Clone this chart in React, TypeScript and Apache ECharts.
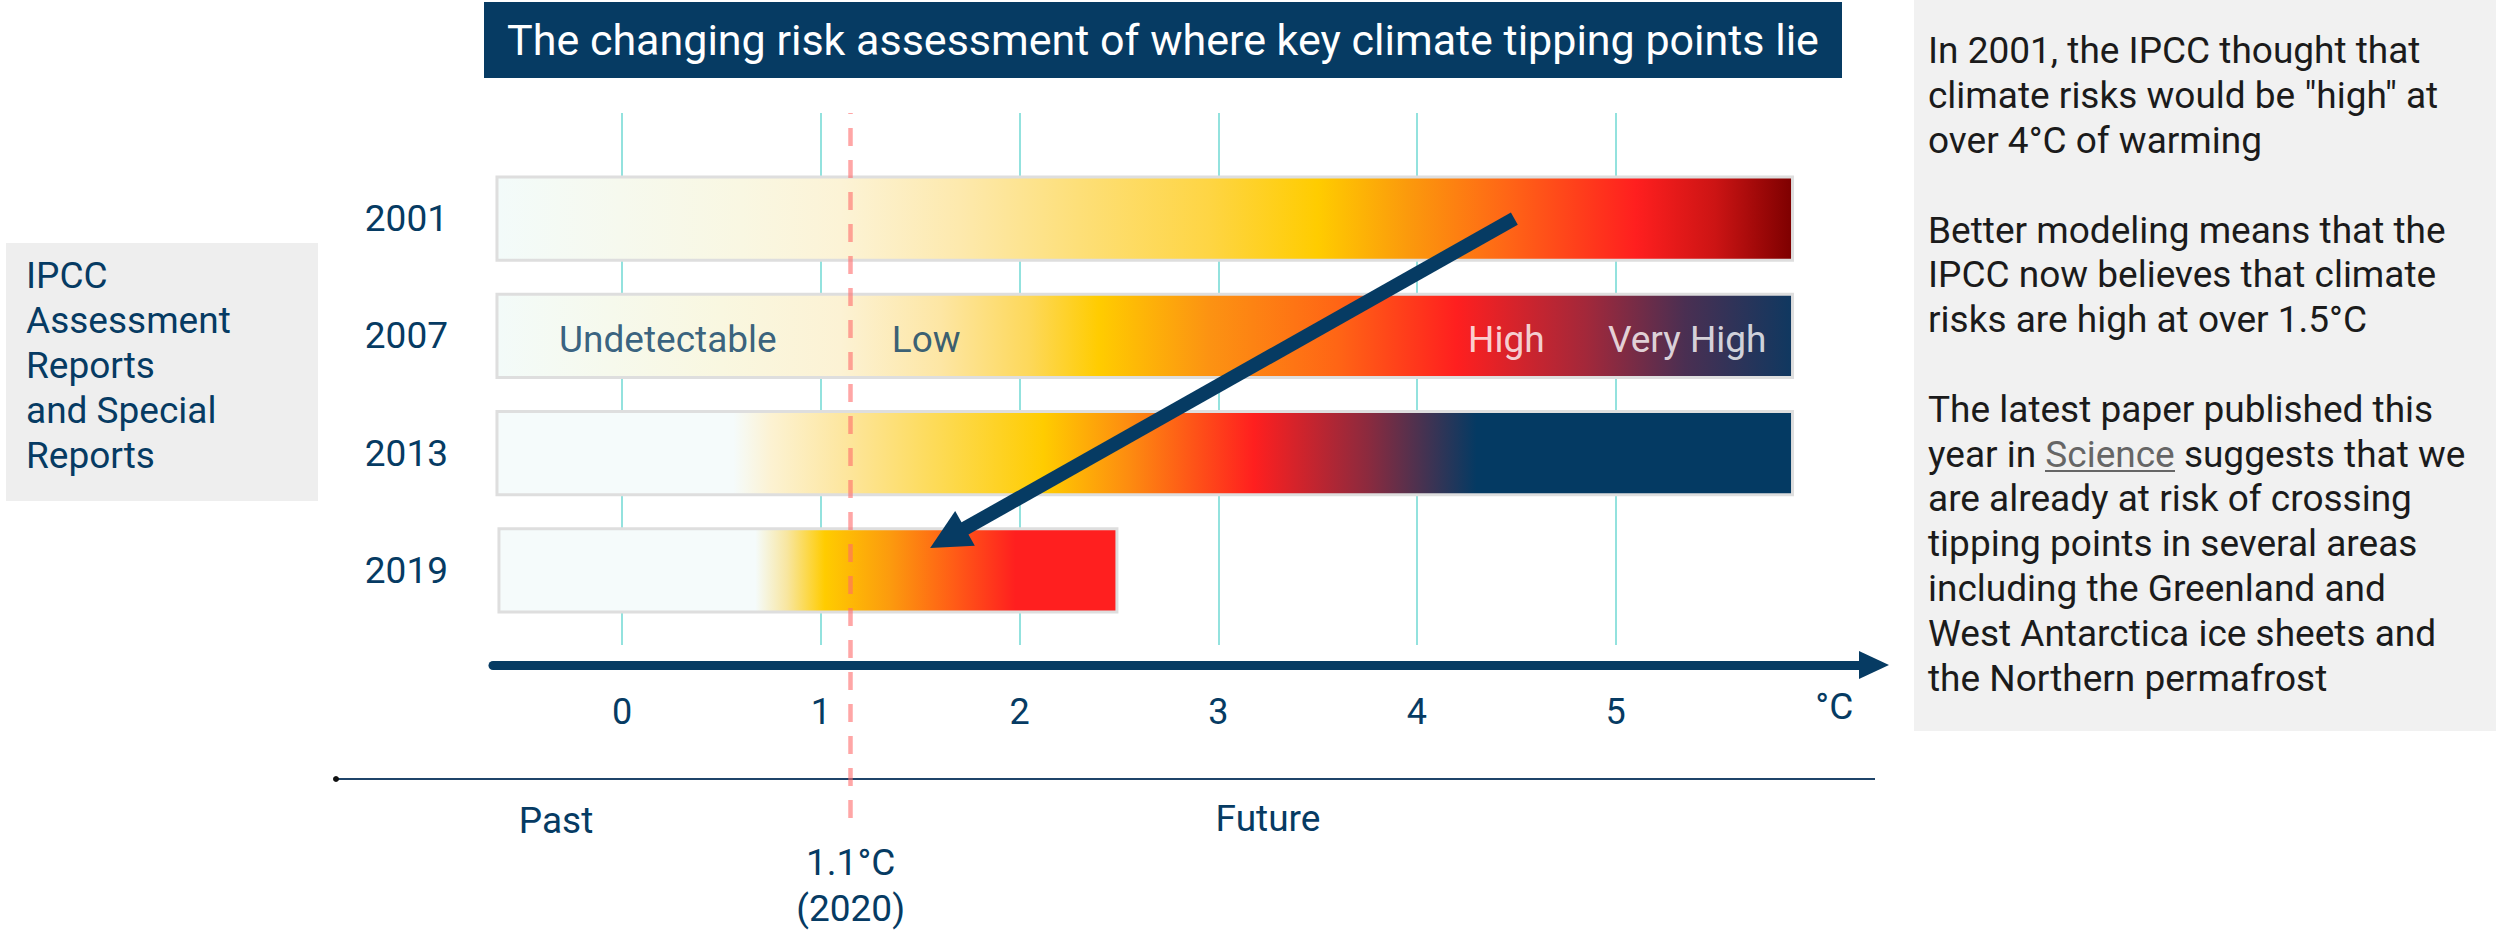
import React, { useEffect, useRef } from 'react';
import * as echarts from 'echarts';

// ---------- data ----------
const years = ['2001', '2007', '2013', '2019'];
const barStart = [-0.63, -0.63, -0.63, -0.62];
const barEnd = [5.89, 5.89, 5.89, 2.49];

// colour stops along each bar: [temperature °C, colour]
const stops2001: [number, string][] = [
  [-0.63, '#f3fbfa'], [0.6, '#f9f7e2'], [1.1, '#fcf3d6'], [1.7, '#fde9ad'], [2.3, '#fddf78'],
  [2.95, '#fed544'], [3.5, '#ffcc00'], [3.95, '#fb9a0c'], [4.45, '#ff6616'], [5.1, '#ff1f1f'],
  [5.5, '#cc1414'], [5.89, '#7d0000'],
];
const stops2007: [number, string][] = [
  [-0.63, '#f3fbf9'], [0.5, '#f9f7e0'], [1.1, '#fcf2d4'], [1.6, '#fde6a4'], [2.05, '#fdd85a'],
  [2.4, '#ffcc00'], [2.95, '#fc9312'], [3.6, '#ff6515'], [4.2, '#ff1f1f'], [4.85, '#a3283a'],
  [5.35, '#4a2f52'], [5.89, '#0f3860'],
];
const stops2013: [number, string][] = [
  [-0.63, '#f5fbfb'], [0.56, '#f5fbfb'], [0.75, '#fcf2d2'], [1.15, '#fde59a'], [1.65, '#fdd94c'],
  [2.12, '#ffcc00'], [2.55, '#fd8c10'], [3.18, '#ff1f1f'], [3.75, '#8c2a3e'], [4.3, '#043a63'],
  [5.89, '#043a63'],
];
const stops2019: [number, string][] = [
  [-0.62, '#f5fbfb'], [0.67, '#f5fbfb'], [0.83, '#f8e6a0'], [1.02, '#ffcc00'], [1.35, '#fc9a0e'],
  [1.66, '#ff5e16'], [1.98, '#ff1f1f'], [2.49, '#ff1f1f'],
];
const allStops = [stops2001, stops2007, stops2013, stops2019];

const tickValues = [0, 1, 2, 3, 4, 5];
const unitLabelAt = 6.1;
const unitLabel = '°C';
const xMin = -0.65;
const xMax = 6.3;

// the dashed "today" line sits at ~1.15 on the drawn scale, labelled 1.1°C (2020)
const currentWarmingPos = 1.15;
const currentLabel = ['1.1°C', '(2020)'];

const zoneNames = ['Undetectable', 'Low', 'High', 'Very High'];
const zoneTemps = [0.23, 1.53, 4.45, 5.36];
const zoneYear = '2007';
const zoneLight = [false, false, true, true];

const arrowFromTemp = 4.49;
const arrowFromYear = '2001';
const arrowToTemp = 1.55;
const arrowToYear = '2019';
const arrowToShift = -0.19; // fraction of a row above the row centre

const titleText = 'The changing risk assessment of where key climate tipping points lie';
const sideLabel = 'IPCC\nAssessment\nReports\nand Special\nReports';
const para1 = 'In 2001, the IPCC thought that\nclimate risks would be "high" at\nover 4°C of warming';
const para2 = 'Better modeling means that the\nIPCC now believes that climate\nrisks are high at over 1.5°C';
const para3 =
  'The latest paper published this\nyear in {s|Science} suggests that we\nare already at risk of crossing\ntipping points in several areas\nincluding the Greenland and\nWest Antarctica ice sheets and\nthe Northern permafrost';
const pastLabel = 'Past';
const futureLabel = 'Future';

// ---------- style ----------
const NAVY = '#063b63';
const FONT = 'Roboto, "Noto Sans", sans-serif';

export default function App() {
  const ref = useRef<HTMLDivElement>(null);

  useEffect(() => {
    if (!ref.current) return;
    const chart = echarts.init(ref.current, undefined, { renderer: 'svg' });

    const gridL = 493;
    const gridR = 622;

    const option: any = {
      animation: false,
      textStyle: { fontFamily: FONT },
      grid: [
        { left: gridL, right: gridR, top: 160, height: 469 },
        { left: gridL, right: gridR, top: 113, height: 532 },
        { left: gridL, right: gridR, top: 113, height: 705 },
      ],
      xAxis: [
        { gridIndex: 0, type: 'value', min: xMin, max: xMax, show: false },
        {
          gridIndex: 1,
          type: 'value',
          min: xMin,
          max: xMax,
          offset: 20,
          axisLine: {
            show: true,
            onZero: false,
            lineStyle: { color: NAVY, width: 9 },
            symbol: ['none', 'triangle'],
            symbolSize: [28, 30],
          },
          axisTick: { show: false, customValues: tickValues },
          splitLine: { show: true, lineStyle: { color: '#6fd8d3', width: 1.5 } },
          axisLabel: {
            customValues: [...tickValues, unitLabelAt],
            formatter: (v: number) => (v > 5.5 ? '{c|' + unitLabel + '}' : String(v)),
            fontSize: 36,
            color: NAVY,
            margin: 29,
            fontFamily: FONT,
            rich: { c: { fontSize: 37, color: NAVY, lineHeight: 25, fontFamily: FONT } },
          },
        },
        { gridIndex: 2, type: 'value', min: xMin, max: xMax, show: false },
      ],
      yAxis: [
        {
          gridIndex: 0,
          type: 'category',
          data: years,
          inverse: true,
          axisLine: { show: false },
          axisTick: { show: false },
          splitLine: { show: false },
          axisLabel: { fontSize: 37, color: NAVY, margin: 45, fontFamily: FONT },
        },
        { gridIndex: 1, type: 'value', min: 0, max: 1, show: false },
        { gridIndex: 2, type: 'value', min: 0, max: 1, show: false },
      ],
      series: [
        {
          type: 'custom',
          name: 'Risk',
          xAxisIndex: 0,
          yAxisIndex: 0,
          encode: { x: [1, 2], y: 0 },
          data: years.map((_, i) => [i, barStart[i], barEnd[i]]),
          renderItem: (params: any, api: any) => {
            const s = api.value(1);
            const e = api.value(2);
            const p0 = api.coord([s, api.value(0)]);
            const p1 = api.coord([e, api.value(0)]);
            const band = api.size([0, 1])[1];
            const h = band * 0.708;
            const stops = allStops[params.dataIndex].map(([t, c]) => ({
              offset: Math.min(1, Math.max(0, (t - s) / (e - s))),
              color: c,
            }));
            return {
              type: 'rect',
              shape: { x: p0[0], y: p0[1] - h / 2, width: p1[0] - p0[0], height: h },
              style: {
                fill: new echarts.graphic.LinearGradient(0, 0, 1, 0, stops),
                stroke: '#dedede',
                lineWidth: 3,
              },
            };
          },
          silent: true,
          z: 2,
        },
        {
          type: 'scatter',
          name: 'Zones',
          xAxisIndex: 0,
          yAxisIndex: 0,
          symbolSize: 0,
          silent: true,
          z: 3,
          data: zoneNames.map((n, i) => ({
            name: n,
            value: [zoneTemps[i], years.indexOf(zoneYear)],
            label: { color: zoneLight[i] ? '#ffffff' : NAVY },
          })),
          label: {
            show: true,
            position: 'inside',
            formatter: '{b}',
            fontSize: 37,
            fontFamily: FONT,
            offset: [0, 4],
          },
        },
        {
          type: 'custom',
          name: 'Shift',
          xAxisIndex: 0,
          yAxisIndex: 0,
          encode: { x: [0, 2], y: [1, 3] },
          data: [[arrowFromTemp, years.indexOf(arrowFromYear), arrowToTemp, years.indexOf(arrowToYear)]],
          silent: true,
          z: 5,
          renderItem: (params: any, api: any) => {
            const band = api.size([0, 1])[1];
            const a = api.coord([api.value(0), api.value(1)]);
            const b = api.coord([api.value(2), api.value(3)]);
            b[1] += arrowToShift * band;
            const dx = b[0] - a[0];
            const dy = b[1] - a[1];
            const len = Math.hypot(dx, dy);
            const ux = dx / len;
            const uy = dy / len;
            const px = -uy;
            const py = ux;
            const headLen = 40;
            const headW = 40;
            const hw = 7;
            const base = [b[0] - ux * headLen, b[1] - uy * headLen];
            const baseIn = [base[0] + ux * 2, base[1] + uy * 2];
            return {
              type: 'group',
              children: [
                {
                  type: 'polygon',
                  shape: {
                    points: [
                      [a[0] + px * hw, a[1] + py * hw],
                      [baseIn[0] + px * hw, baseIn[1] + py * hw],
                      [baseIn[0] - px * hw, baseIn[1] - py * hw],
                      [a[0] - px * hw, a[1] - py * hw],
                    ],
                  },
                  style: { fill: NAVY },
                },
                {
                  type: 'polygon',
                  shape: {
                    points: [
                      [b[0], b[1]],
                      [base[0] + (px * headW) / 2, base[1] + (py * headW) / 2],
                      [base[0] - (px * headW) / 2, base[1] - (py * headW) / 2],
                    ],
                  },
                  style: { fill: NAVY },
                },
              ],
            };
          },
        },
        {
          type: 'line',
          name: 'Now',
          xAxisIndex: 2,
          yAxisIndex: 2,
          data: [[currentWarmingPos, 0]],
          showSymbol: false,
          symbolSize: 0,
          lineStyle: { opacity: 0 },
          silent: true,
          z: 4,
          markLine: {
            silent: true,
            symbol: ['none', 'none'],
            lineStyle: { color: 'rgba(255,107,107,0.6)', type: [18, 14], width: 4.5 },
            label: {
              show: true,
              position: 'start',
              distance: 21,
              formatter: currentLabel.join('\n'),
              fontSize: 37,
              lineHeight: 46,
              color: NAVY,
              opacity: 1,
              fontFamily: FONT,
            },
            emphasis: { disabled: true },
            data: [{ xAxis: currentWarmingPos }],
          },
        },
      ],
      graphic: [
        {
          type: 'rect',
          shape: { x: 484, y: 2, width: 1358, height: 76 },
          style: { fill: NAVY },
          silent: true,
        },
        {
          type: 'text',
          x: 1163,
          y: 40,
          style: {
            text: titleText,
            fill: '#ffffff',
            fontSize: 43,
            fontFamily: FONT,
            align: 'center',
            verticalAlign: 'middle',
          },
          silent: true,
        },
        {
          type: 'rect',
          shape: { x: 6, y: 243, width: 312, height: 258 },
          style: { fill: '#eeeeee' },
          silent: true,
        },
        {
          type: 'text',
          x: 26,
          y: 253,
          style: {
            text: sideLabel,
            fill: NAVY,
            fontSize: 37,
            fontFamily: FONT,
            lineHeight: 45,
            align: 'left',
            verticalAlign: 'top',
          },
          silent: true,
        },
        {
          type: 'rect',
          shape: { x: 1914, y: 0, width: 582, height: 731 },
          style: { fill: '#f1f1f1' },
          silent: true,
        },
        {
          type: 'text',
          x: 1928,
          y: 28.5,
          style: {
            text: para1,
            fill: '#1b1b1b',
            fontSize: 37,
            fontFamily: FONT,
            lineHeight: 44.8,
            align: 'left',
            verticalAlign: 'top',
          },
          silent: true,
        },
        {
          type: 'text',
          x: 1928,
          y: 28.5 + 4 * 44.8,
          style: {
            text: para2,
            fill: '#1b1b1b',
            fontSize: 37,
            fontFamily: FONT,
            lineHeight: 44.8,
            align: 'left',
            verticalAlign: 'top',
          },
          silent: true,
        },
        {
          type: 'text',
          x: 1928,
          y: 28.5 + 8 * 44.8,
          style: {
            text: para3,
            fill: '#1b1b1b',
            fontSize: 37,
            fontFamily: FONT,
            lineHeight: 44.8,
            align: 'left',
            verticalAlign: 'top',
            rich: { s: { fill: '#666666', fontSize: 37, fontFamily: FONT, lineHeight: 44.8 } },
          },
          silent: true,
        },
        {
          type: 'line',
          shape: { x1: 2045, y1: 471, x2: 2175, y2: 471 },
          style: { stroke: '#666666', lineWidth: 2 },
          silent: true,
        },
        {
          type: 'line',
          shape: { x1: 336, y1: 779, x2: 1875, y2: 779 },
          style: { stroke: '#1f4469', lineWidth: 2 },
          silent: true,
        },
        {
          type: 'circle',
          shape: { cx: 336, cy: 779, r: 3 },
          style: { fill: '#111111' },
          silent: true,
        },
        {
          type: 'text',
          x: 556,
          y: 820,
          style: {
            text: pastLabel,
            fill: NAVY,
            fontSize: 37,
            fontFamily: FONT,
            align: 'center',
            verticalAlign: 'middle',
          },
          silent: true,
        },
        {
          type: 'text',
          x: 1268,
          y: 818,
          style: {
            text: futureLabel,
            fill: NAVY,
            fontSize: 37,
            fontFamily: FONT,
            align: 'center',
            verticalAlign: 'middle',
          },
          silent: true,
        },
      ],
    };

    chart.setOption(option);
    return () => {
      chart.dispose();
    };
  }, []);

  return (
    <div
      ref={ref}
      style={{ position: 'absolute', left: 0, top: 0, width: 2496, height: 931, background: '#ffffff' }}
    />
  );
}
